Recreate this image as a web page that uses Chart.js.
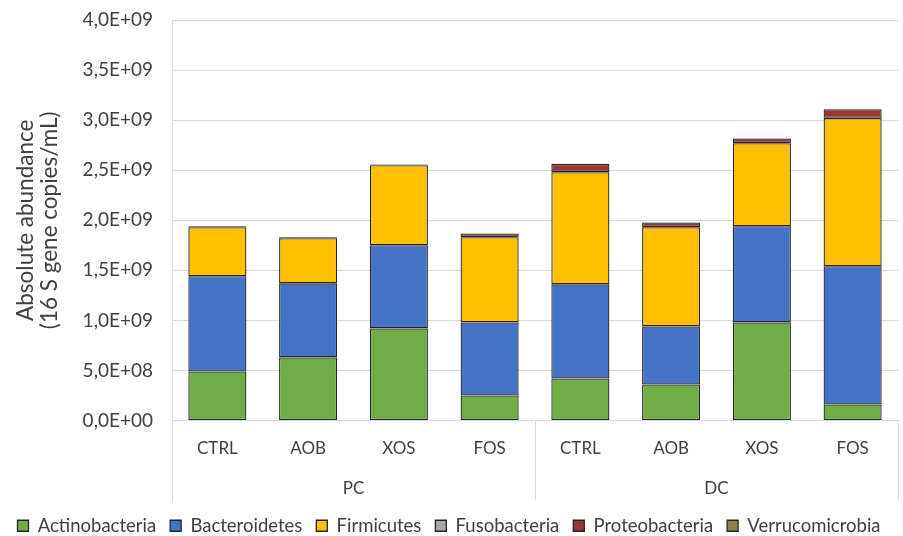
<!DOCTYPE html>
<html>
<head>
<meta charset="utf-8">
<script src="https://cdn.jsdelivr.net/npm/chart.js@4"></script>
<style>
  html, body { margin: 0; padding: 0; background: #fff; }
  #wrap { width: 903px; height: 536px; position: relative; }
</style>
</head>
<body>
<div id="wrap"><canvas id="chart"></canvas></div>
<script>
// categories and groups
const categories = ['CTRL', 'AOB', 'XOS', 'FOS', 'CTRL', 'AOB', 'XOS', 'FOS'];
const groups = ['PC', 'DC'];

// series values (copies/mL)
const actinobacteria  = [4.9e8, 6.3e8, 9.2e8, 2.5e8, 4.2e8, 3.6e8, 9.8e8, 1.6e8];
const bacteroidetes   = [9.5e8, 7.4e8, 8.3e8, 7.3e8, 9.4e8, 5.8e8, 9.6e8, 13.8e8];
const firmicutes      = [4.9e8, 4.5e8, 8.0e8, 8.5e8, 11.2e8, 9.9e8, 8.3e8, 14.8e8];
const fusobacteria    = [0.2e7, 0.2e7, 0.1e7, 0.2e7, 0.3e7, 0.2e7, 0.2e7, 0.3e7];
const proteobacteria  = [0.8e7, 0.9e7, 0.6e7, 3.5e7, 8.0e7, 4.5e7, 4.5e7, 8.5e7];
const verrucomicrobia = [0.1e7, 0.1e7, 0.1e7, 0.1e7, 0.2e7, 0.1e7, 0.1e7, 0.2e7];

const yMax = 4e9;
const yStep = 5e8;

function sci(v) {
  if (v === 0) return '0,0E+00';
  const e = Math.floor(Math.log10(v) + 1e-9);
  const m = (v / Math.pow(10, e)).toFixed(1).replace('.', ',');
  return m + 'E+' + String(e).padStart(2, '0');
}

const border = '#262626';
function ds(label, data, color) {
  return {
    label: label,
    data: data,
    backgroundColor: color,
    borderColor: border,
    borderWidth: 1.3,
    borderSkipped: false,
    barPercentage: 0.64,
    categoryPercentage: 1
  };
}

// group separators and PC / DC labels under the category ticks
const groupLabels = {
  id: 'groupLabels',
  afterDraw(chart) {
    const ctx = chart.ctx;
    const x = chart.scales.x;
    const area = chart.chartArea;
    ctx.save();
    ctx.strokeStyle = '#D9D9D9';
    ctx.lineWidth = 1;
    [area.left, x.getPixelForValue(3.5), area.right].forEach(px => {
      const xx = Math.round(px) + 0.5;
      ctx.beginPath();
      ctx.moveTo(xx, area.bottom);
      ctx.lineTo(xx, area.bottom + 80);
      ctx.stroke();
    });
    ctx.fillStyle = '#404040';
    ctx.font = '17px Lato';
    ctx.textAlign = 'center';
    ctx.textBaseline = 'middle';
    ctx.fillText(groups[0], x.getPixelForValue(1.5), area.bottom + 68);
    ctx.fillText(groups[1], x.getPixelForValue(5.5), area.bottom + 68);
    ctx.restore();
  }
};

new Chart(document.getElementById('chart'), {
  type: 'bar',
  data: {
    labels: categories,
    datasets: [
      ds('Actinobacteria', actinobacteria, '#70AD47'),
      ds('Bacteroidetes', bacteroidetes, '#4472C4'),
      ds('Firmicutes', firmicutes, '#FFC000'),
      ds('Fusobacteria', fusobacteria, '#A5A5A5'),
      ds('Proteobacteria', proteobacteria, '#9E3535'),
      ds('Verrucomicrobia', verrucomicrobia, '#8C8446')
    ]
  },
  options: {
    responsive: true,
    maintainAspectRatio: false,
    animation: false,
    layout: { padding: { top: 20, right: 5, left: 0, bottom: -9 } },
    plugins: {
      tooltip: { enabled: false },
      legend: {
        position: 'bottom',
        labels: {
          font: { family: 'Lato', size: 18.5 },
          color: '#404040',
          boxWidth: 11,
          boxHeight: 11,
          padding: 14
        }
      }
    },
    scales: {
      x: {
        stacked: true,
        grid: { display: false },
        border: { display: true, color: '#D9D9D9' },
        ticks: {
          font: { family: 'Lato', size: 17 },
          color: '#404040',
          padding: 10,
          maxRotation: 0
        },
        afterFit(scale) { scale.height = 82; }
      },
      y: {
        stacked: true,
        min: 0,
        max: yMax,
        grid: { color: '#D9D9D9', drawTicks: false },
        border: { display: true, color: '#D9D9D9' },
        ticks: {
          stepSize: yStep,
          font: { family: 'Lato', size: 19 },
          color: '#404040',
          padding: 19,
          callback: v => sci(v)
        },
        title: {
          display: true,
          text: ['Absolute abundance', '(16 S gene copies/mL)'],
          font: { family: 'Lato', size: 22.5, lineHeight: 1.05 },
          color: '#404040',
          padding: { top: 14, bottom: 0 }
        },
        afterFit(scale) {
          scale.width = 172;
          scale.paddingTop = 0;
          scale.paddingBottom = 0;
        }
      }
    }
  },
  plugins: [groupLabels]
});
</script>
</body>
</html>
